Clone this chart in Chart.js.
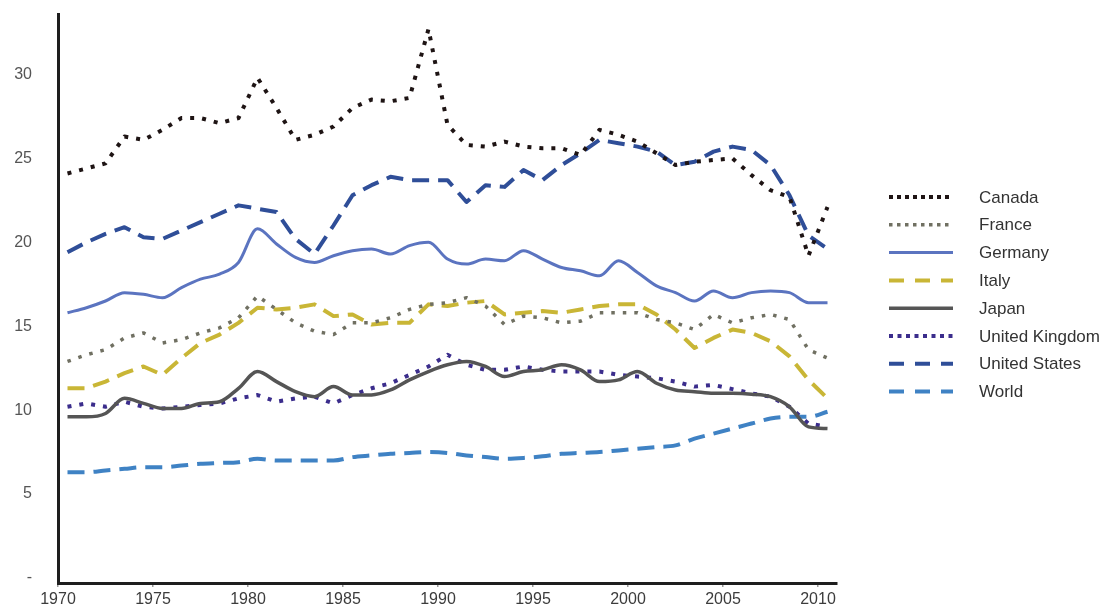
<!DOCTYPE html>
<html>
<head>
<meta charset="utf-8">
<script src="https://cdn.jsdelivr.net/npm/chart.js@4"></script>
<style>
  html, body { margin: 0; padding: 0; background: #ffffff; }
  #wrap { width: 1105px; height: 608px; position: relative; }
</style>
</head>
<body>
<div id="wrap"><canvas id="c" width="1105" height="608"></canvas></div>
<script>
// ---- data ----
const years = [];
for (let y = 1970; y <= 2010; y++) years.push(y);

const canada = [24.1,24.4,24.7,26.3,26.1,26.7,27.4,27.4,27.1,27.4,29.8,28.0,26.1,26.4,26.9,28.0,28.5,28.4,28.6,32.7,27.0,25.8,25.7,26.0,25.7,25.6,25.6,25.2,26.7,26.4,26.0,25.3,24.6,24.8,24.9,25.0,24.0,23.1,22.7,19.2,22.1];
const france = [12.9,13.3,13.6,14.3,14.6,14.0,14.2,14.6,14.9,15.5,16.8,16.0,15.2,14.7,14.5,15.2,15.2,15.5,16.0,16.3,16.4,16.7,16.2,15.1,15.6,15.5,15.2,15.3,15.8,15.8,15.8,15.4,15.2,14.8,15.7,15.2,15.5,15.7,15.4,13.6,13.1];
const germany = [15.8,16.1,16.5,17.0,16.9,16.7,17.3,17.8,18.1,18.8,20.8,19.9,19.1,18.8,19.2,19.5,19.6,19.3,19.8,20.0,19.0,18.7,19.0,18.9,19.5,19.0,18.5,18.3,18.0,18.9,18.2,17.4,17.0,16.5,17.1,16.7,17.0,17.1,17.0,16.4,16.4];
const italy = [11.3,11.3,11.7,12.2,12.6,12.1,13.1,14.0,14.5,15.2,16.1,16.0,16.1,16.3,15.6,15.7,15.1,15.2,15.2,16.3,16.2,16.4,16.5,15.7,15.8,15.9,15.8,16.0,16.2,16.3,16.3,15.7,14.8,13.7,14.3,14.8,14.6,14.1,13.2,11.8,10.7];
const japan = [9.6,9.6,9.8,10.7,10.4,10.1,10.1,10.4,10.5,11.3,12.3,11.7,11.1,10.8,11.4,10.9,10.9,11.2,11.8,12.3,12.7,12.9,12.6,12.0,12.3,12.4,12.7,12.4,11.7,11.8,12.3,11.6,11.2,11.1,11.0,11.0,10.95,10.8,10.2,9.0,8.9];
const uk = [10.2,10.4,10.2,10.5,10.2,10.1,10.2,10.3,10.4,10.7,10.9,10.5,10.7,10.8,10.4,10.9,11.3,11.6,12.1,12.6,13.3,12.7,12.4,12.4,12.6,12.4,12.3,12.3,12.3,12.1,12.0,11.9,11.7,11.4,11.5,11.25,11.0,10.8,10.2,9.2,9.0];
const us = [19.4,20.0,20.5,20.9,20.3,20.2,20.7,21.2,21.7,22.2,22.0,21.8,20.2,19.3,21.0,22.8,23.4,23.9,23.7,23.7,23.7,22.4,23.4,23.3,24.3,23.7,24.6,25.3,26.1,25.9,25.7,25.4,24.6,24.8,25.4,25.7,25.5,24.6,22.8,20.4,19.6];
const world = [6.3,6.3,6.4,6.5,6.6,6.6,6.7,6.8,6.85,6.9,7.1,7.0,7.0,7.0,7.0,7.2,7.3,7.4,7.45,7.5,7.45,7.3,7.2,7.1,7.15,7.25,7.4,7.45,7.5,7.6,7.7,7.8,7.9,8.3,8.6,8.9,9.2,9.5,9.6,9.6,9.9];

const seriesNames = ['Canada','France','Germany','Italy','Japan','United Kingdom','United States','World'];
const yTicks = [0,5,10,15,20,25,30];
const xTicks = [1970,1975,1980,1985,1990,1995,2000,2005,2010];

// observations are plotted at mid-year
const MIDYEAR = 0.5;
function pts(arr) { return arr.map((v, i) => ({ x: years[i] + MIDYEAR, y: v })); }

const styles = [
  { color: '#1e1414', width: 4,   dash: [4, 8],   legDash: [4, 4],   tension: 0 },
  { color: '#707062', width: 3.5, dash: [3.5, 8], legDash: [3.5, 4.5], tension: 0 },
  { color: '#5b74c0', width: 3,   dash: [],       legDash: [],       tension: 0.35 },
  { color: '#c9b636', width: 4,   dash: [17, 9],  legDash: [15, 11], tension: 0 },
  { color: '#555555', width: 3.5, dash: [],       legDash: [],       tension: 0.4 },
  { color: '#3b2d8c', width: 4,   dash: [4, 8],   legDash: [4, 4.5], tension: 0 },
  { color: '#2f4e98', width: 4,   dash: [17, 9],  legDash: [15, 11], tension: 0 },
  { color: '#3f82c4', width: 4,   dash: [17, 9],  legDash: [15, 11], tension: 0.3 }
];
const seriesData = [canada, france, germany, italy, japan, uk, us, world];

const datasets = seriesNames.map((name, i) => ({
  label: name,
  data: pts(seriesData[i]),
  borderColor: styles[i].color,
  backgroundColor: styles[i].color,
  borderWidth: styles[i].width,
  borderDash: styles[i].dash,
  borderCapStyle: 'butt',
  borderJoinStyle: 'round',
  pointRadius: 0,
  tension: styles[i].tension,
  cubicInterpolationMode: styles[i].tension > 0 ? 'monotone' : 'default',
  fill: false,
  legDash: styles[i].legDash
}));

const legendPlugin = {
  id: 'customLegend',
  afterDraw(chart) {
    const ctx = chart.ctx;
    const x0 = 889, x1 = 953, tx = 979, y0 = 197, step = 27.8;
    ctx.save();
    chart.data.datasets.forEach((ds, i) => {
      const y = y0 + i * step;
      ctx.beginPath();
      ctx.setLineDash(ds.legDash);
      ctx.lineCap = 'butt';
      ctx.strokeStyle = ds.borderColor;
      ctx.lineWidth = ds.borderWidth;
      ctx.moveTo(x0, y);
      ctx.lineTo(x1, y);
      ctx.stroke();
      ctx.setLineDash([]);
      ctx.fillStyle = '#333333';
      ctx.font = '17px "Liberation Sans", Arial, sans-serif';
      ctx.textBaseline = 'middle';
      ctx.textAlign = 'left';
      ctx.fillText(ds.label, tx, y + 1);
    });
    ctx.restore();
  }
};

new Chart(document.getElementById('c'), {
  type: 'line',
  data: { datasets },
  options: {
    responsive: false,
    animation: false,
    devicePixelRatio: 1,
    layout: { padding: { top: 14, right: 268, left: 0, bottom: 0 } },
    plugins: { legend: { display: false }, tooltip: { enabled: false } },
    scales: {
      x: {
        type: 'linear',
        min: 1970,
        max: 2011,
        afterBuildTicks(scale) { scale.ticks = xTicks.map(v => ({ value: v })); },
        afterFit(scale) { scale.height = 25; scale.paddingLeft = 0; scale.paddingRight = 0; scale.paddingTop = 0; scale.paddingBottom = 0; },
        grid: { display: true, drawOnChartArea: false, drawTicks: true, tickLength: 4, color: '#999999', lineWidth: 1.5 },
        border: { display: true, color: '#1e1e1e', width: 3 },
        ticks: {
          padding: 3,
          color: '#3c3c3c',
          font: { family: '"Liberation Sans", Arial, sans-serif', size: 16 },
          maxRotation: 0,
          autoSkip: false,
          callback: v => String(v)
        }
      },
      y: {
        type: 'linear',
        min: -0.3,
        max: 33.6,
        afterBuildTicks(scale) { scale.ticks = yTicks.map(v => ({ value: v })); },
        afterFit(scale) { scale.width = 58; scale.paddingTop = 0; scale.paddingBottom = 0; scale.paddingLeft = 0; scale.paddingRight = 0; },
        grid: { display: false, drawTicks: false },
        border: { display: true, color: '#1e1e1e', width: 3 },
        ticks: {
          padding: 26,
          color: '#555555',
          font: { family: '"Liberation Sans", Arial, sans-serif', size: 16 },
          callback: v => (v === 0 ? '-' : String(v))
        }
      }
    }
  },
  plugins: [legendPlugin]
});
</script>
</body>
</html>
